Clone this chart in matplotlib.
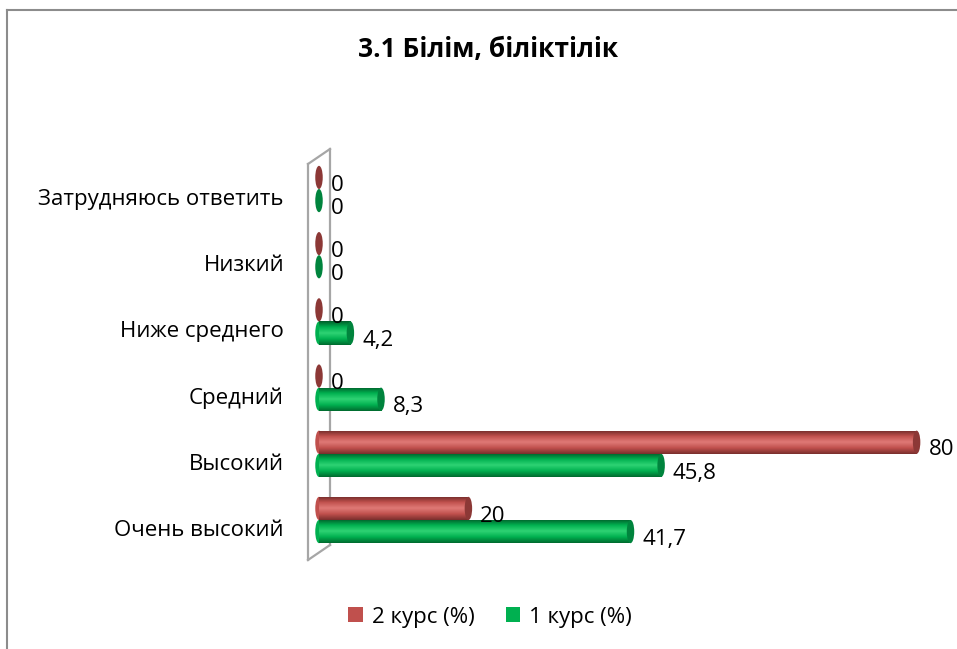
import numpy as np
import matplotlib
matplotlib.use('Agg')
import matplotlib.pyplot as plt
from matplotlib.patches import Rectangle, Ellipse, Patch
from matplotlib.colors import LinearSegmentedColormap
from matplotlib.lines import Line2D

# data, top of chart is last item
categories = ['Очень высокий', 'Высокий', 'Средний', 'Ниже среднего',
              'Низкий', 'Затрудняюсь ответить']
kurs2 = [20, 80, 0, 0, 0, 0]
kurs1 = [41.7, 45.8, 8.3, 4.2, 0, 0]
kurs2_lbl = ['20', '80', '0', '0', '0', '0']
kurs1_lbl = ['41,7', '45,8', '8,3', '4,2', '0', '0']
title = '3.1 Білім, біліктілік'
series_names = ['2 курс (%)', '1 курс (%)']

plt.rcParams['font.family'] = ['Open Sans', 'DejaVu Sans']
W, H = 957, 649
fig = plt.figure(figsize=(W / 100, H / 100), dpi=100)

# axes placed in pixel terms
x0, scale = 319, 7.47
ax = fig.add_axes([x0 / W, (H - 560) / H, (85 * scale) / W, 396 / H])
ax.set_xlim(0, 85)
ax.set_ylim(-40 / 66.2, 356 / 66.2)
ax.axis('off')
ax.patch.set_visible(False)

red = ('#7a2f2d', '#c0504d', '#e07a77', '#c0504d', '#6e2a28')
green = ('#006b2f', '#00b050', '#2fd374', '#00b050', '#005f2a')
red_cap, green_cap = '#8c3836', '#00843d'
h = 0.35


def cyl(ax, y, v, cols, cap):
    cmap = LinearSegmentedColormap.from_list('c', list(cols)[::-1])
    if v > 0:
        ax.add_patch(Ellipse((0, y), 1.0, h, facecolor=cols[1], edgecolor='none',
                             zorder=1.9, clip_on=False))
        rect = Rectangle((0, y - h / 2), v, h, facecolor='none', edgecolor='none')
        ax.add_patch(rect)
        grad = np.linspace(0, 1, 64).reshape(-1, 1)
        im = ax.imshow(grad, extent=(0, v, y - h / 2, y + h / 2), aspect='auto',
                       cmap=cmap, origin='upper', zorder=2)
        im.set_clip_path(rect)
    ax.add_patch(Ellipse((v, y), 1.0, h, facecolor=cap, edgecolor='none',
                         zorder=3, clip_on=False))


# back wall (behind the axes), pixel positions
wall = [((308, 308), (164, 560)), ((330, 330), (149, 545)),
        ((308, 330), (164, 149)), ((308, 330), (560, 545))]
for xs, ys in wall:
    fig.add_artist(Line2D([x / W for x in xs], [1 - y / H for y in ys],
                          transform=fig.transFigure, color='#a6a6a6', lw=1.6,
                          zorder=-1))

ypos = np.arange(len(categories))
for i in ypos:
    cyl(ax, i + h / 2, kurs2[i], red, red_cap)
    cyl(ax, i - h / 2, kurs1[i], green, green_cap)
    for v, y, s in [(kurs2[i], i + h / 2, kurs2_lbl[i]),
                    (kurs1[i], i - h / 2, kurs1_lbl[i])]:
        ax.annotate(s, (v, y), xytext=(8.5, -5.5), textcoords='offset points',
                    ha='left', va='center', fontsize=16, color='black')
    ax.annotate(categories[i], (0, i), xytext=(-35 * 0.72, -10.5 * 0.72),
                textcoords='offset points', ha='right', va='center',
                fontsize=16, color='black')

fig.text(488 / W, 1 - 50 / H, title, ha='center', va='center',
         fontsize=19, fontweight='bold')

handles = [Patch(facecolor='#c0504d'), Patch(facecolor='#00b050')]
fig.legend(handles, series_names, loc='center', bbox_to_anchor=(490 / W, 1 - 617 / H),
           ncol=2, frameon=False, fontsize=16, handlelength=0.65,
           handleheight=0.65, handletextpad=0.4, columnspacing=1.4)

# outer chart border
bc = '#8c8c8c'
fig.add_artist(Line2D([7 / W, 7 / W], [0, 1 - 10 / H], transform=fig.transFigure,
                      color=bc, lw=1.5))
fig.add_artist(Line2D([7 / W, 1], [1 - 10 / H, 1 - 10 / H], transform=fig.transFigure,
                      color=bc, lw=1.5))

fig.savefig('out.png', dpi=100)
